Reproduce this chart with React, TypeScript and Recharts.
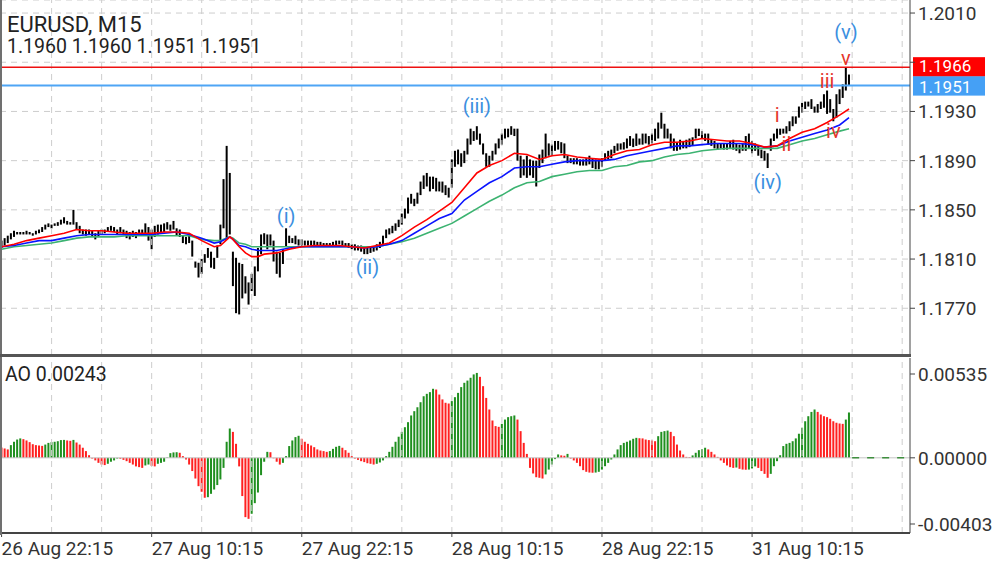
import React from 'react';
import { ComposedChart, Bar, Line, XAxis, YAxis, CartesianGrid, ReferenceLine, ReferenceDot } from 'recharts';

// prices are kept as pips above 1.1800, AO as units of 0.00001
const BASE = 1.18;
const SLOTS = 291; // bars plus empty space on the right

const barHigh = [
  25, 27, 29, 31, 33, 32, 32, 32, 33, 32,
  31, 33, 34, 36, 38, 39, 38, 39, 40, 42,
  44, 41, 40, 50, 40, 37, 34, 34, 34, 33,
  31, 33, 34, 34, 36, 37, 36, 34, 36, 34,
  33, 32, 33, 32, 34, 34, 39, 36, 34, 37,
  38, 38, 39, 40, 38, 41, 35, 34, 29, 28,
  29, 25, 8, 7, 10, 14, 19, 16, 11, 21,
  38, 75, 102, 80, 16, 11, 7, 6, -4, -9,
  -2, 4, 19, 30, 31, 30, 30, 25, 16, 15,
  18, 35, 29, 27, 29, 26, 26, 25, 25, 25,
  25, 24, 24, 23, 23, 23, 24, 25, 25, 25,
  23, 23, 22, 22, 21, 21, 20, 20, 20, 20,
  22, 24, 29, 34, 35, 37, 39, 42, 47, 51,
  60, 63, 59, 64, 73, 78, 80, 77, 77, 76,
  73, 73, 70, 68, 91, 98, 99, 96, 98, 108,
  116, 114, 118, 112, 104, 96, 94, 98, 104, 108,
  112, 116, 116, 118, 116, 116, 94, 91, 94, 91,
  90, 90, 95, 99, 112, 104, 103, 106, 106, 105,
  104, 94, 92, 92, 92, 91, 91, 92, 94, 92,
  91, 91, 92, 96, 98, 99, 102, 104, 104, 105,
  108, 110, 108, 112, 108, 112, 112, 110, 112, 116,
  121, 129, 120, 116, 112, 108, 105, 107, 106, 107,
  108, 109, 116, 116, 114, 112, 112, 107, 106, 104,
  104, 104, 104, 106, 107, 104, 103, 104, 110, 112,
  106, 104, 102, 99, 98, 96, 108, 112, 116, 116,
  116, 118, 122, 126, 126, 134, 137, 138, 138, 140,
  134, 136, 138, 144, 147, 140, 132, 144, 148, 152,
  166, 160,
];

const barLow = [
  19, 21, 23, 26, 28, 30, 30, 30, 30, 30,
  29, 30, 31, 32, 34, 36, 35, 37, 37, 38,
  39, 38, 38, 38, 34, 31, 30, 29, 30, 28,
  26, 28, 30, 31, 32, 33, 32, 30, 31, 30,
  27, 26, 28, 27, 29, 30, 31, 25, 18, 28,
  30, 31, 32, 34, 33, 34, 29, 28, 23, 22,
  23, 12, 3, -5, -2, 7, 11, 3, 2, 11,
  22, 35, 27, 30, -12, -34, -35, -22, -18, -27,
  -16, -20, 0, 14, 22, 18, 21, 8, -2, -5,
  6, 20, 23, 23, 22, 21, 21, 21, 21, 21,
  20, 21, 20, 20, 20, 20, 21, 21, 22, 21,
  20, 19, 18, 17, 17, 16, 14, 14, 15, 16,
  17, 19, 22, 27, 30, 31, 33, 36, 38, 43,
  47, 55, 53, 55, 62, 67, 69, 65, 67, 65,
  65, 64, 62, 60, 68, 85, 87, 85, 88, 95,
  103, 106, 107, 103, 95, 85, 85, 90, 95, 100,
  103, 108, 109, 111, 110, 90, 76, 78, 76, 78,
  76, 69, 84, 88, 92, 94, 94, 98, 99, 96,
  92, 88, 88, 87, 87, 86, 86, 86, 87, 84,
  83, 83, 85, 90, 91, 92, 96, 98, 99, 99,
  100, 102, 101, 102, 103, 103, 104, 103, 104, 106,
  108, 116, 108, 108, 100, 98, 98, 99, 100, 100,
  101, 102, 108, 110, 108, 106, 103, 102, 100, 99,
  100, 99, 99, 100, 99, 98, 96, 98, 98, 100,
  96, 98, 94, 92, 90, 84, 98, 106, 108, 111,
  112, 112, 114, 118, 120, 125, 129, 132, 134, 132,
  129, 129, 132, 133, 128, 129, 122, 125, 136, 141,
  147, 151,
];

const aoValues = [
  55, 50, 45, 68, 86, 98, 104, 100, 93, 84,
  73, 68, 66, 64, 71, 80, 84, 86, 89, 95,
  96, 93, 91, 96, 82, 71, 54, 36, 14, -4,
  -14, -27, -36, -39, -32, -21, -14, -4, -5, -11,
  -18, -27, -36, -46, -50, -54, -41, -36, -43, -46,
  -32, -27, -21, 2, 25, 29, 30, 27, 9, -9,
  -36, -71, -111, -152, -182, -214, -211, -193, -170, -146,
  -116, -54, 86, 157, 139, 75, -46, -205, -318, -327,
  -300, -243, -186, -93, -21, 32, 30, -2, -21, -36,
  -27, 9, 63, 93, 111, 118, 102, 86, 75, 66,
  57, 45, 39, 36, 32, 36, 48, 59, 64, 54,
  41, 27, 9, -4, -11, -18, -23, -29, -32, -36,
  -32, -25, -14, 9, 32, 59, 86, 113, 139, 164,
  191, 227, 250, 271, 298, 330, 343, 352, 370, 366,
  339, 313, 295, 291, 304, 325, 348, 379, 402, 414,
  429, 447, 455, 434, 384, 321, 259, 200, 170, 166,
  182, 205, 218, 223, 227, 205, 143, 80, 21, -54,
  -84, -104, -107, -111, -89, -63, -36, -7, 18, 13,
  11, 21, -4, -14, -27, -45, -66, -75, -79, -80,
  -79, -75, -63, -45, -27, -9, 18, 45, 68, 80,
  86, 93, 102, 107, 105, 104, 98, 95, 93, 89,
  116, 139, 143, 146, 139, 116, 71, 39, 18, 5,
  4, 13, 27, 41, 45, 54, 45, 32, 18, 5,
  -14, -27, -41, -50, -54, -52, -59, -63, -64, -63,
  -57, -46, -54, -71, -86, -107, -86, -45, -18, 14,
  63, 75, 80, 89, 104, 129, 161, 196, 223, 246,
  259, 246, 232, 223, 218, 209, 196, 188, 184, 182,
  205, 243,
];

const maIndex = [
  0, 4, 8, 12, 16, 20, 24, 28, 32, 36,
  40, 44, 48, 52, 56, 60, 64, 68, 70, 73,
  74, 76, 78, 80, 82, 84, 88, 92, 96, 100,
  104, 108, 112, 116, 120, 124, 128, 132, 136, 140,
  144, 148, 152, 156, 160, 164, 168, 172, 176, 180,
  184, 188, 192, 196, 200, 204, 208, 212, 216, 220,
  224, 228, 232, 236, 240, 244, 248, 252, 256, 260,
  264, 268, 271,
];
const maRed = [
  20, 22, 25, 27, 29, 31, 34, 33, 33, 32,
  31, 31, 31, 32, 32, 31, 25, 20, 21, 28,
  26, 20, 15, 12, 12, 14, 15, 18, 20, 21,
  21, 21, 20, 19, 21, 23, 29, 36, 42, 49,
  56, 68, 80, 86, 90, 96, 95, 91, 94, 95,
  93, 92, 91, 95, 98, 99, 103, 105, 105, 106,
  108, 107, 106, 106, 104, 101, 102, 108, 113, 116,
  121, 127, 132,
];
const maBlue = [
  20, 21, 23, 25, 25, 27, 29, 30, 30, 30,
  30, 30, 30, 31, 32, 30, 27, 23, 24, 28,
  26, 21, 20, 18, 17, 17, 17, 19, 20, 20,
  20, 20, 20, 19, 20, 22, 25, 31, 37, 43,
  47, 58, 65, 72, 77, 84, 85, 85, 87, 89,
  90, 90, 90, 91, 94, 96, 98, 100, 102, 102,
  103, 104, 104, 104, 103, 101, 102, 106, 109, 112,
  115, 119, 125,
];
const maGreen = [
  18, 20, 21, 22, 23, 25, 27, 28, 28, 28,
  29, 29, 29, 29, 29, 29, 26, 25, 25, 28,
  27, 23, 22, 20, 20, 20, 20, 20, 20, 20,
  20, 20, 20, 20, 20, 22, 24, 27, 31, 35,
  39, 45, 51, 57, 62, 68, 72, 73, 77, 79,
  81, 82, 82, 85, 86, 89, 90, 93, 95, 96,
  98, 99, 100, 100, 100, 100, 100, 103, 106, 108,
  111, 114, 116,
];

const priceTicks = [1.177, 1.181, 1.185, 1.189, 1.193, 1.197, 1.201];
const aoTicks = [-0.00403, 0, 0.00535];
const timeTicks = [0, 48, 96, 144, 192, 240];
const timeLabels = ['26 Aug 22:15', '27 Aug 10:15', '27 Aug 22:15', '28 Aug 10:15', '28 Aug 22:15', '31 Aug 10:15'];
const gridBars = [16, 32, 48, 64, 80, 96, 112, 128, 144, 160, 176, 192, 208, 224, 240, 256, 272, 288];

const BLUE_TXT = '#3b8fe0';
const RED_TXT = '#e5362b';
const waves = [
  { i: 91, price: 1.1844, text: '(i)', color: BLUE_TXT },
  { i: 117, price: 1.1803, text: '(ii)', color: BLUE_TXT },
  { i: 152, price: 1.1934, text: '(iii)', color: BLUE_TXT },
  { i: 245, price: 1.1872, text: '(iv)', color: BLUE_TXT },
  { i: 270, price: 1.1994, text: '(v)', color: BLUE_TXT },
  { i: 248, price: 1.1926, text: 'i', color: RED_TXT },
  { i: 251, price: 1.1903, text: 'ii', color: RED_TXT },
  { i: 264, price: 1.1954, text: 'iii', color: RED_TXT },
  { i: 266, price: 1.1913, text: 'iv', color: RED_TXT },
  { i: 270, price: 1.1973, text: 'v', color: RED_TXT },
];

const rows = Array.from({ length: SLOTS }, (_, i) => {
  const has = i < barHigh.length;
  const m = maIndex.indexOf(i);
  return {
    i,
    hl: has ? [BASE + barLow[i] / 10000, BASE + barHigh[i] / 10000] : null,
    ao: has ? aoValues[i] / 100000 : null,
    up: has && i > 0 && aoValues[i] > aoValues[i - 1],
    red: m >= 0 ? BASE + maRed[m] / 10000 : null,
    blue: m >= 0 ? BASE + maBlue[m] / 10000 : null,
    green: m >= 0 ? BASE + maGreen[m] / 10000 : null,
  };
});

const FONT = 'Roboto';
const GRID = '#cdcdcd';

const PriceBar = (p: any) => {
  if (p.x == null || p.y == null || p.height == null) return <g />;
  const top = Math.min(p.y, p.y + p.height);
  const h = Math.max(Math.abs(p.height), 1);
  return <rect x={p.x + p.width / 2 - 1} y={top} width={2} height={h} fill="#000" />;
};

const AoBar = (p: any) => {
  if (p.x == null || p.y == null || p.height == null) return <g />;
  const top = Math.min(p.y, p.y + p.height);
  const h = Math.max(Math.abs(p.height), 0.5);
  return <rect x={p.x + p.width / 2 - 1} y={top} width={2} height={h} fill={p.payload.up ? '#1f8f1f' : '#ff2020'} />;
};

const PriceTick = ({ x, y, payload }: any) => {
  if (payload.value === 1.197) return <g />;
  return (
    <text x={x + 1} y={y + 7} fontSize={19} fill="#333" fontFamily={FONT}>
      {payload.value.toFixed(4)}
    </text>
  );
};

const AoTick = ({ x, y, payload }: any) => {
  const v = payload.value;
  const yy = v > 0 ? y + 10 : v < 0 ? y - 9 : y;
  return (
    <g>
      <line x1={x - 7} x2={x - 2} y1={yy} y2={yy} stroke="#444" />
      <text x={x + 1} y={yy + 7} fontSize={19} fill="#333" fontFamily={FONT}>
        {v.toFixed(5)}
      </text>
    </g>
  );
};

const TimeTick = ({ x, y, payload }: any) => (
  <text x={x} y={y + 16} textAnchor="start" fontSize={19} fill="#333" fontFamily={FONT}>
    {timeLabels[timeTicks.indexOf(payload.value)]}
  </text>
);

// price tag on the right axis; shift nudges the text inside the box
const PriceTag = ({ viewBox, text, color, top, bottom, shift }: any) => {
  if (!viewBox) return <g />;
  const x = viewBox.x + viewBox.width + 3;
  const y = viewBox.y;
  return (
    <g>
      <rect x={x} y={y - top} width={72} height={top + bottom} fill={color} />
      <text x={x + 6} y={y + 6 + shift} fill="#fff" fontSize={17} fontFamily={FONT}>
        {text}
      </text>
    </g>
  );
};

const WaveText = (color: string, text: string) => (p: any) => (
  <text x={p.cx} y={p.cy + 6} textAnchor="middle" fill={color} fontSize={20} fontFamily={FONT}>
    {text}
  </text>
);

export default function App() {
  return (
    <div style={{ position: 'absolute', left: 0, top: 0, width: 1000, height: 563, background: '#fff', overflow: 'hidden', fontFamily: FONT }}>
      <div style={{ position: 'absolute', left: 0, top: 0 }}>
        <ComposedChart width={1000} height={355} data={rows} margin={{ top: 0, right: 0, bottom: 0, left: 0 }} barCategoryGap={0}>
          <CartesianGrid vertical={false} stroke={GRID} strokeDasharray="6 5" />
          {gridBars.map((g) => (
            <ReferenceLine key={g} x={g} stroke={GRID} strokeDasharray="6 5" />
          ))}
          <XAxis dataKey="i" hide />
          <YAxis
            orientation="right"
            width={90}
            domain={[1.1732, 1.20206]}
            allowDataOverflow
            ticks={priceTicks}
            tick={PriceTick}
            tickSize={5}
            tickLine={{ stroke: '#444' }}
            axisLine={{ stroke: '#444' }}
          />
          <Bar dataKey="hl" shape={PriceBar} isAnimationActive={false} />
          <Line dataKey="green" type="linear" stroke="#3cb371" strokeWidth={1.6} dot={false} activeDot={false} connectNulls isAnimationActive={false} />
          <Line dataKey="blue" type="linear" stroke="#0a14ff" strokeWidth={1.6} dot={false} activeDot={false} connectNulls isAnimationActive={false} />
          <Line dataKey="red" type="linear" stroke="#ff0000" strokeWidth={1.6} dot={false} activeDot={false} connectNulls isAnimationActive={false} />
          <ReferenceLine y={1.1966} stroke="#ee1111" strokeWidth={1.5} label={<PriceTag text="1.1966" color="#ff0000" top={10} bottom={9.5} shift={-1} />} />
          <ReferenceLine y={1.1951} stroke="#4ea5f5" strokeWidth={2} label={<PriceTag text="1.1951" color="#45a0f5" top={9.3} bottom={10} shift={1} />} />
          {waves.map((w) => (
            <ReferenceDot key={w.text + w.i} x={w.i} y={w.price} r={1} fill="none" stroke="none" shape={WaveText(w.color, w.text)} />
          ))}
        </ComposedChart>
      </div>

      <div style={{ position: 'absolute', left: 0, top: 355 }}>
        <ComposedChart width={1000} height={208} data={rows} margin={{ top: 3, right: 0, bottom: 0, left: 0 }} barCategoryGap={0}>
          {gridBars.map((g) => (
            <ReferenceLine key={g} x={g} stroke={GRID} strokeDasharray="6 5" />
          ))}
          <ReferenceLine y={0} stroke="#c4c4c4" />
          <XAxis
            dataKey="i"
            ticks={timeTicks}
            interval={0}
            tick={TimeTick}
            tickSize={4}
            tickLine={{ stroke: '#444' }}
            axisLine={{ stroke: '#444', strokeWidth: 2 }}
            height={30}
          />
          <YAxis
            orientation="right"
            width={90}
            domain={[-0.00403, 0.00535]}
            allowDataOverflow
            ticks={aoTicks}
            tick={AoTick}
            tickSize={5}
            tickLine={false}
            axisLine={{ stroke: '#444' }}
          />
          <Bar dataKey="ao" shape={AoBar} isAnimationActive={false} />
          <ReferenceLine segment={[{ x: 272, y: 0 }, { x: 290, y: 0 }]} stroke="#3f8f3f" strokeWidth={1.5} strokeDasharray="7 8" />
        </ComposedChart>
      </div>

      <div style={{ position: 'absolute', left: 0, top: 0, width: 2, height: 535, background: '#707070' }} />
      <div style={{ position: 'absolute', left: 0, top: 354, width: 911, height: 3, background: '#555' }} />

      <svg width={1000} height={563} style={{ position: 'absolute', left: 0, top: 0, pointerEvents: 'none' }}>
        <text x={7} y={32} fontSize={22} fill="#222" fontFamily={FONT}>EURUSD, M15</text>
        <text x={7} y={53} fontSize={19.5} fill="#222" fontFamily={FONT}>1.1960 1.1960 1.1951 1.1951</text>
        <text x={5} y={381} fontSize={19.5} fill="#222" fontFamily={FONT}>AO 0.00243</text>
      </svg>
    </div>
  );
}
